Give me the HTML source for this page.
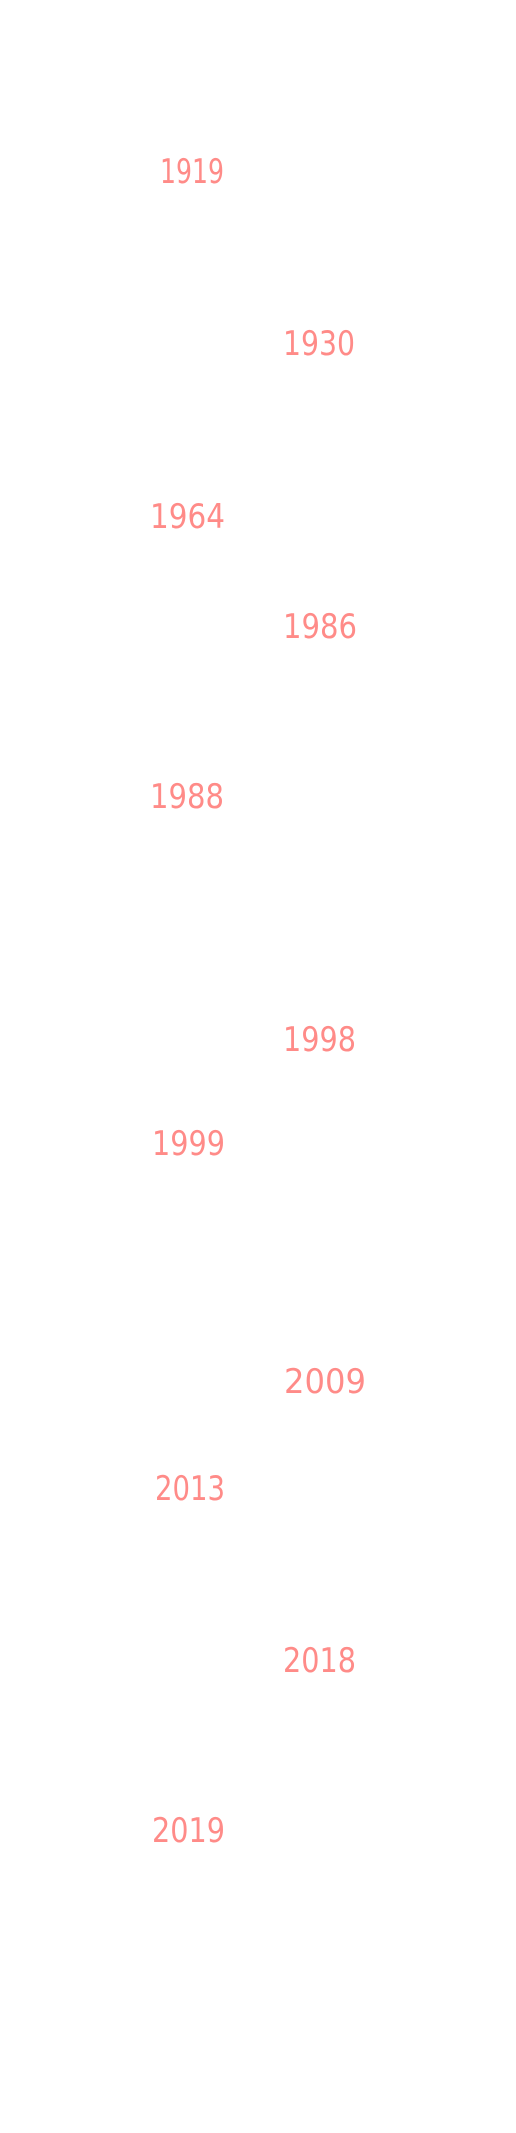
<!DOCTYPE html>
<html><head><meta charset="utf-8"><style>
html,body{margin:0;padding:0;background:#fff;}
svg{display:block;}
text{font-family:"DejaVu Sans","Liberation Sans",sans-serif;font-size:34px;fill:#ff8b88;}
</style></head><body>
<svg width="516" height="2133" xmlns="http://www.w3.org/2000/svg">
<text x="160" y="183" textLength="64" lengthAdjust="spacingAndGlyphs">1919</text>
<text x="283" y="355" textLength="72" lengthAdjust="spacingAndGlyphs">1930</text>
<text x="150" y="528" textLength="75" lengthAdjust="spacingAndGlyphs">1964</text>
<text x="283" y="638" textLength="74" lengthAdjust="spacingAndGlyphs">1986</text>
<text x="150" y="808" textLength="74" lengthAdjust="spacingAndGlyphs">1988</text>
<text x="283" y="1051" textLength="73" lengthAdjust="spacingAndGlyphs">1998</text>
<text x="152" y="1155" textLength="73" lengthAdjust="spacingAndGlyphs">1999</text>
<text x="284" y="1393" textLength="82" lengthAdjust="spacingAndGlyphs">2009</text>
<text x="155" y="1500" textLength="70" lengthAdjust="spacingAndGlyphs">2013</text>
<text x="283" y="1672" textLength="73" lengthAdjust="spacingAndGlyphs">2018</text>
<text x="152" y="1842" textLength="73" lengthAdjust="spacingAndGlyphs">2019</text>
</svg>
</body></html>
